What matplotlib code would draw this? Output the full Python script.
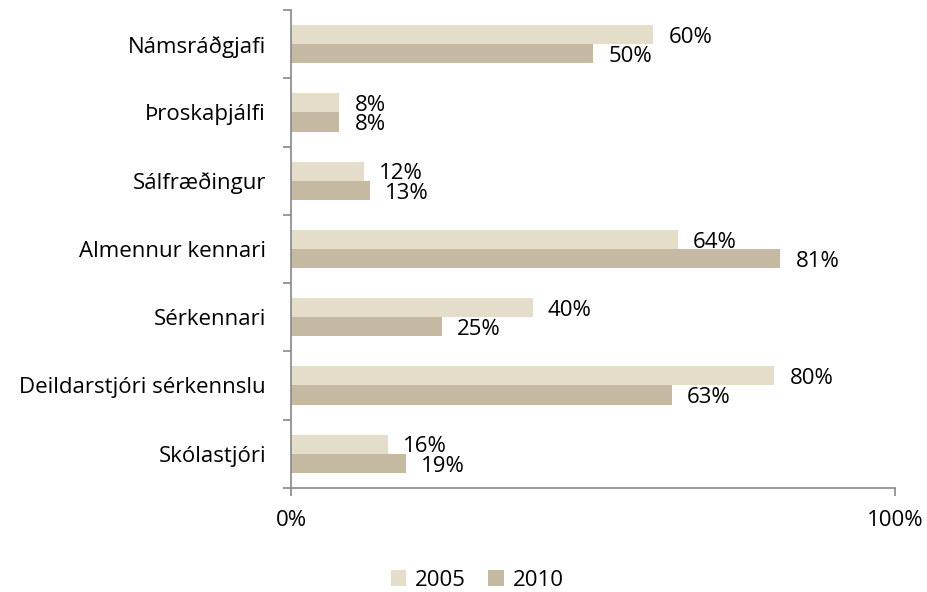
import numpy as np
import matplotlib.pyplot as plt
from matplotlib.ticker import FixedLocator

categories = ['Námsráðgjafi', 'Þroskaþjálfi', 'Sálfræðingur', 'Almennur kennari',
              'Sérkennari', 'Deildarstjóri sérkennslu', 'Skólastjóri']
vals_2005 = [60, 8, 12, 64, 40, 80, 16]
vals_2010 = [50, 8, 13, 81, 25, 63, 19]
series_names = ['2005', '2010']

plt.rcParams['font.family'] = ['Open Sans', 'DejaVu Sans']
plt.rcParams['font.size'] = 16

fig = plt.figure(figsize=(9.27, 5.92), dpi=100)
ax = fig.add_axes([0.314, 0.176, 0.6515, 0.807])

y = np.arange(len(categories))
h = 0.28
c05 = '#E4DDC9'
c10 = '#C5BAA1'
b1 = ax.barh(y - h / 2, vals_2005, height=h, color=c05, label=series_names[0])
b2 = ax.barh(y + h / 2, vals_2010, height=h, color=c10, label=series_names[1])

# value labels just right of each bar end
for yy, v in zip(y, vals_2005):
    ax.annotate(f'{v}%', (v, yy - h / 2), xytext=(11, -2), textcoords='offset points',
                va='center', ha='left')
for yy, v in zip(y, vals_2010):
    ax.annotate(f'{v}%', (v, yy + h / 2), xytext=(11, -2), textcoords='offset points',
                va='center', ha='left')

ax.set_xlim(0, 100)
ax.set_ylim(len(categories) - 0.5, -0.5)
ax.set_xticks([0, 100])
ax.set_xticklabels(['0%', '100%'])
ax.set_yticks(y)
ax.set_yticklabels(categories)
ax.yaxis.set_minor_locator(FixedLocator(np.arange(-0.5, len(categories), 1)))
ax.tick_params(axis='y', which='major', length=0, pad=18)
ax.tick_params(axis='y', which='minor', length=6, color='#888888', width=1.2)
ax.tick_params(axis='x', length=6, color='#888888', width=1.2, pad=10)

for s in ['top', 'right']:
    ax.spines[s].set_visible(False)
for s in ['left', 'bottom']:
    ax.spines[s].set_color('#888888')
    ax.spines[s].set_linewidth(1.2)

fig.legend(handles=[b1, b2], loc='lower center', bbox_to_anchor=(0.515, -0.032), ncol=2,
           frameon=False, handlelength=0.7, handleheight=0.7, handletextpad=0.4,
           columnspacing=1.0)

fig.savefig('out.png', dpi=100)
